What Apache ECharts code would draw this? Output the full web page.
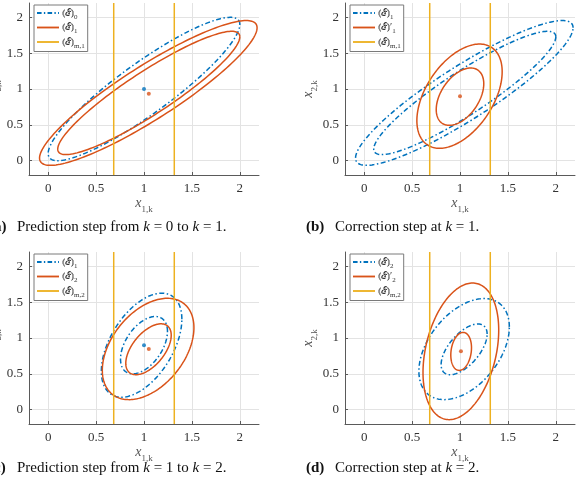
<!DOCTYPE html>
<html>
<head>
<meta charset="utf-8">
<script src="https://cdn.jsdelivr.net/npm/echarts@6/dist/echarts.min.js"></script>
<style>html,body{margin:0;padding:0;background:#fff}#c{width:576px;height:480px}</style>
</head>
<body>
<div id="c"></div>
<script>
// ---- data ----
const xTicks = [0, 0.5, 1, 1.5, 2];
const yTicks = [0, 0.5, 1, 1.5, 2];
const axisRange = [-0.2, 2.2];
const measBounds = [0.684, 1.316];           // measurement strip x_1 bounds

// ellipses: [centre x, centre y, half-width in x, half-height in y, correlation]
const a_E0   = [[1.0, 1.0, 1.0, 1.0, 0.90]];
const a_E1   = [[1.045, 0.945, 1.135, 1.01, 0.90], [1.05, 0.945, 0.95, 0.86, 0.91]];
const b_E1   = [[1.045, 0.945, 1.135, 1.01, 0.90], [1.05, 0.945, 0.95, 0.86, 0.91]];
const b_E1c  = [[0.995, 0.90, 0.445, 0.727, 0.47], [1.0, 0.893, 0.248, 0.40, 0.45]];
const c_E1   = [[0.975, 0.90, 0.42, 0.726, 0.50], [1.0, 0.90, 0.245, 0.40, 0.48]];
const c_E2   = [[1.043, 0.847, 0.478, 0.707, 0.42], [1.047, 0.843, 0.237, 0.355, 0.55]];
const d_E2   = [[1.043, 0.845, 0.472, 0.705, 0.44], [1.043, 0.842, 0.24, 0.354, 0.60]];
const d_E2c  = [[1.009, 0.814, 0.395, 0.953, 0.31], [1.012, 0.813, 0.108, 0.265, 0.19]];

// centre points
const a_cBlue = [[1.0, 1.0]];   const a_cOrange = [[1.05, 0.935]];
const b_cOrange = [[1.0, 0.9]];
const c_cBlue = [[1.0, 0.9]];   const c_cOrange = [[1.05, 0.847]];
const d_cOrange = [[1.01, 0.815]];

// legend labels
const legendLabels = {
  a0: '{m|⦅ℰ⦆}{s|0}', a1: '{m|⦅ℰ⦆}{s|1}', am: '{m|⦅ℰ⦆}{s|m,1}',
  b0: '{m|⦅ℰ⦆}{s|1}', b1: '{m|⦅ℰ⦆′}{s|1}', bm: '{m|⦅ℰ⦆}{s|m,1}',
  c0: '{m|⦅ℰ⦆}{s|1}', c1: '{m|⦅ℰ⦆}{s|2}', cm: '{m|⦅ℰ⦆}{s|m,2}',
  d0: '{m|⦅ℰ⦆}{s|2}', d1: '{m|⦅ℰ⦆′}{s|2}', dm: '{m|⦅ℰ⦆}{s|m,2}'
};

// ---- styling ----
const BLUE = '#0072BD', ORANGE = '#D95319', YELLOW = '#EDB120';
const SERIF = '"Liberation Serif","DejaVu Serif",serif';
const DASHDOT = [5, 2.5, 1.5, 2.5];
const gridPos = [
  {left: 29, top: 3},
  {left: 345, top: 3},
  {left: 29, top: 252},
  {left: 345, top: 252}
];
const GW = 230, GH = 172;

function ellipseSeries(name, idx, data, color, dash) {
  return {
    type: 'custom', name: name, xAxisIndex: idx, yAxisIndex: idx,
    dimensions: ['cx', 'cy', 'a', 'b', 'r'],
    encode: {x: 'cx', y: 'cy'},
    itemStyle: {color: color},
    data: data, silent: true, clip: true,
    renderItem: function (params, api) {
      const cx = api.value(0), cy = api.value(1), A = api.value(2), B = api.value(3);
      const d = Math.acos(api.value(4));
      const pts = [];
      const N = 180;
      for (let i = 0; i <= N; i++) {
        const t = 2 * Math.PI * i / N;
        pts.push(api.coord([cx + A * Math.cos(t), cy + B * Math.cos(t - d)]));
      }
      return {type: 'polyline', shape: {points: pts},
        style: {stroke: color, lineWidth: 1.5, lineDash: dash || null, fill: null}};
    }
  };
}
function stripSeries(name, idx) {
  return {
    type: 'custom', name: name, xAxisIndex: idx, yAxisIndex: idx,
    dimensions: ['x'], encode: {x: 'x'},
    itemStyle: {color: YELLOW}, silent: true,
    data: measBounds.map(v => [v]),
    renderItem: function (params, api) {
      const p1 = api.coord([api.value(0), axisRange[0]]);
      const p2 = api.coord([api.value(0), axisRange[1]]);
      return {type: 'line', shape: {x1: p1[0], y1: p1[1], x2: p2[0], y2: p2[1]},
        style: {stroke: YELLOW, lineWidth: 1.5}};
    }
  };
}
function dots(idx, data, color) {
  return {type: 'scatter', xAxisIndex: idx, yAxisIndex: idx, data: data,
    symbolSize: 4, itemStyle: {color: color}, silent: true, z: 5};
}

const axisCommon = {
  type: 'value', min: axisRange[0], max: axisRange[1],
  axisLine: {show: true, onZero: false, lineStyle: {color: '#5a5a5a', width: 1}},
  axisTick: {show: true, inside: true, length: 3, customValues: xTicks, lineStyle: {color: '#5a5a5a'}},
  splitLine: {show: true, lineStyle: {color: '#e3e3e3', width: 1}},
  axisLabel: {customValues: xTicks, color: '#333', fontFamily: SERIF, fontSize: 13}
};

const xAxes = [], yAxes = [], grids = [];
for (let i = 0; i < 4; i++) {
  grids.push({left: gridPos[i].left, top: gridPos[i].top, width: GW, height: GH,
    containLabel: false, outerBoundsMode: 'none'});
  xAxes.push(Object.assign({}, axisCommon, {
    gridIndex: i, position: 'bottom',
    axisLabel: Object.assign({}, axisCommon.axisLabel, {margin: 7}),
    name: '{i|x}{s|1,k}', nameLocation: 'middle', nameGap: 20,
    nameTextStyle: {color: '#555', rich: {
      i: {fontFamily: SERIF, fontStyle: 'italic', fontSize: 14, lineHeight: 14, verticalAlign: 'middle'},
      s: {fontFamily: SERIF, fontSize: 9, lineHeight: 14, verticalAlign: 'bottom', padding: [0, 0, -4, 0]}}}
  }));
  yAxes.push(Object.assign({}, axisCommon, {
    gridIndex: i, position: 'left',
    axisTick: Object.assign({}, axisCommon.axisTick, {customValues: yTicks}),
    axisLabel: Object.assign({}, axisCommon.axisLabel, {customValues: yTicks, margin: 6}),
    name: '{i|x}{s|2,k}', nameLocation: 'middle', nameGap: 18,
    nameTextStyle: {color: '#555', rich: {
      i: {fontFamily: SERIF, fontStyle: 'italic', fontSize: 14, lineHeight: 14, verticalAlign: 'middle'},
      s: {fontFamily: SERIF, fontSize: 9, lineHeight: 14, verticalAlign: 'bottom', padding: [0, 0, -4, 0]}}}
  }));
}

const ICON_SOLID = 'path://M0,0H24V2H0Z';
const ICON_DASHDOT = 'path://M0,0H5V2H0Z M7.5,0H9V2H7.5Z M11.5,0H16.5V2H11.5Z M19,0H20.5V2H19Z M23,0H24V2H23Z';

function legendFor(i, p) {
  return {
    left: gridPos[i].left + 5, top: gridPos[i].top + 2,
    orient: 'vertical', selectedMode: false,
    itemWidth: 22, itemHeight: 2, itemGap: 2,
    padding: [3, 3, 2, 3], borderColor: '#7a7a7a', borderWidth: 1, backgroundColor: '#fff',
    formatter: n => legendLabels[n],
    textStyle: {color: '#333', padding: [0, 0, 0, -2], rich: {
      m: {fontFamily: SERIF, fontSize: 10, lineHeight: 11, verticalAlign: 'middle', color: '#333'},
      s: {fontFamily: SERIF, fontSize: 7, lineHeight: 11, verticalAlign: 'bottom', color: '#333', padding: [0, 0, -2, 0]}}},
    data: [{name: p + '0', icon: ICON_DASHDOT}, {name: p + '1', icon: ICON_SOLID}, {name: p + 'm', icon: ICON_SOLID}]
  };
}

const series = [
  ellipseSeries('a0', 0, a_E0, BLUE, DASHDOT),
  ellipseSeries('a1', 0, a_E1, ORANGE),
  stripSeries('am', 0),
  dots(0, a_cBlue, BLUE), dots(0, a_cOrange, ORANGE),

  ellipseSeries('b0', 1, b_E1, BLUE, DASHDOT),
  ellipseSeries('b1', 1, b_E1c, ORANGE),
  stripSeries('bm', 1),
  dots(1, b_cOrange, ORANGE),

  ellipseSeries('c0', 2, c_E1, BLUE, DASHDOT),
  ellipseSeries('c1', 2, c_E2, ORANGE),
  stripSeries('cm', 2),
  dots(2, c_cBlue, BLUE), dots(2, c_cOrange, ORANGE),

  ellipseSeries('d0', 3, d_E2, BLUE, DASHDOT),
  ellipseSeries('d1', 3, d_E2c, ORANGE),
  stripSeries('dm', 3),
  dots(3, d_cOrange, ORANGE)
];

const capRich = {
  t: {fontFamily: SERIF, fontSize: 15, color: '#111'},
  k: {fontFamily: SERIF, fontSize: 15, fontStyle: 'italic', color: '#111'}
};
function caption(xLab, xText, y, lab, parts) {
  return [
    {type: 'text', x: xLab, y: y, style: {text: lab, font: 'bold 15px ' + SERIF, fill: '#111',
      textAlign: 'left', textVerticalAlign: 'middle'}},
    {type: 'text', x: xText, y: y, style: {text: parts, rich: capRich, fill: '#111',
      textAlign: 'left', textVerticalAlign: 'middle'}}
  ];
}
const graphics = [].concat(
  caption(-11, 17, 227, '(a)', '{t|Prediction step from }{k|k}{t| = 0 to }{k|k}{t| = 1.}'),
  caption(306, 335, 227, '(b)', '{t|Correction step at }{k|k}{t| = 1.}'),
  caption(-11, 17, 468, '(c)', '{t|Prediction step from }{k|k}{t| = 1 to }{k|k}{t| = 2.}'),
  caption(306, 335, 468, '(d)', '{t|Correction step at }{k|k}{t| = 2.}')
);

const chart = echarts.init(document.getElementById('c'), null, {renderer: 'canvas'});
chart.setOption({
  animation: false,
  backgroundColor: '#fff',
  grid: grids, xAxis: xAxes, yAxis: yAxes,
  legend: [legendFor(0, 'a'), legendFor(1, 'b'), legendFor(2, 'c'), legendFor(3, 'd')],
  series: series,
  graphic: graphics
});
</script>
</body>
</html>
